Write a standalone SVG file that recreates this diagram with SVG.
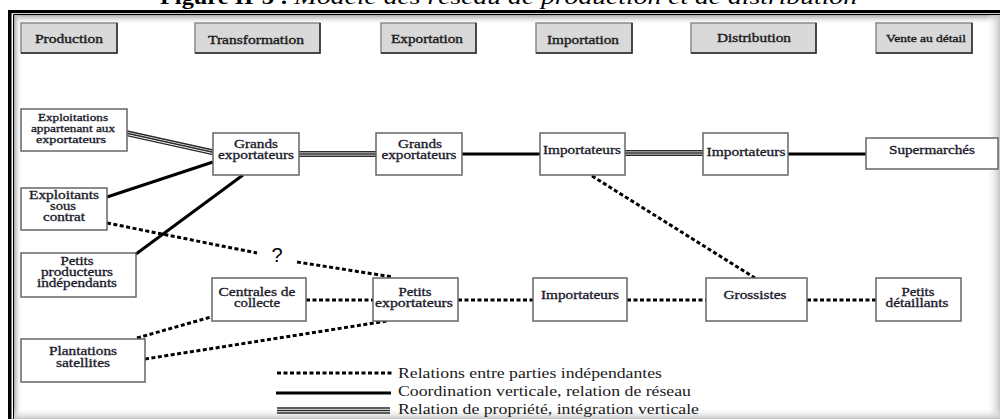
<svg xmlns="http://www.w3.org/2000/svg" width="1000" height="419" viewBox="0 0 1000 419">
<defs>
<linearGradient id="gTop" x1="0" y1="0" x2="0" y2="1"><stop offset="0" stop-color="#a8a8a8"/><stop offset="1" stop-color="#fff" stop-opacity="0"/></linearGradient>
<linearGradient id="gLeft" x1="0" y1="0" x2="1" y2="0"><stop offset="0" stop-color="#a8a8a8"/><stop offset="1" stop-color="#fff" stop-opacity="0"/></linearGradient>
<linearGradient id="gRight" x1="0" y1="0" x2="1" y2="0"><stop offset="0" stop-color="#fff" stop-opacity="0"/><stop offset="1" stop-color="#c4c4c4"/></linearGradient>
<linearGradient id="gBottom" x1="0" y1="0" x2="0" y2="1"><stop offset="0" stop-color="#fff" stop-opacity="0"/><stop offset="1" stop-color="#c4c4c4"/></linearGradient>
</defs>
<style>
.hdr rect{fill:#d9d9d9;stroke:#8a8a8a;stroke-width:1.5}
.hdr path{fill:none;stroke:#2a2a2a;stroke-width:1.5}
.hdr text{font-family:"Liberation Serif",serif;font-size:12px;fill:#1a1a1a;stroke:#1a1a1a;stroke-width:0.35;text-anchor:middle}
.node rect{fill:#fff;stroke:#666;stroke-width:1.5}
.node text{font-family:"Liberation Serif",serif;font-size:11.5px;fill:#1a1a2a;stroke:#1a1a2a;stroke-width:0.3;text-anchor:middle}
.node text.s{font-size:10px}
.dot{fill:none;stroke:#000;stroke-width:3;stroke-dasharray:4 2.5}
.sol{fill:none;stroke:#000;stroke-width:3}
.tri{fill:none;stroke:#2a2a2a;stroke-width:1.4}
.leg{font-family:"Liberation Serif",serif;font-size:15px;fill:#1a1a1a}
</style>
<rect width="1000" height="419" fill="#fff"/>
<text x="160" y="4" font-family="Liberation Serif,serif" font-size="22" fill="#000"><tspan font-weight="bold" textLength="128" lengthAdjust="spacingAndGlyphs">Figure II-3 :</tspan><tspan x="294" font-style="italic" textLength="563" lengthAdjust="spacingAndGlyphs">Modèle des réseau de production et de distribution</tspan></text>
<g id="frame">
<rect x="14" y="15" width="986" height="10" fill="url(#gTop)"/>
<rect x="14" y="15" width="8" height="404" fill="url(#gLeft)"/>
<rect x="986" y="15" width="14" height="404" fill="url(#gRight)"/>
<rect x="14" y="408" width="986" height="11" fill="url(#gBottom)"/>
<rect x="8" y="10" width="992" height="3.2" fill="#000"/>
<rect x="8" y="10" width="3.5" height="409" fill="#000"/>
<path d="M13.5 419 V14.5 H1000" fill="none" stroke="#000" stroke-width="1"/>
</g>
<g id="connectors">
<path class="tri" d="M127 131 L213 150 M127 133.3 L213 152.3 M127 135.6 L213 154.6"/>
<path class="tri" d="M299 151.7 H376 M299 154 H376 M299 156.3 H376"/>
<path class="tri" d="M625 150.7 H703 M625 153 H703 M625 155.3 H703"/>
<path class="sol" d="M107 197 L213 162"/>
<path class="sol" d="M136 254 L243 175"/>
<path class="sol" d="M462 154 H540" stroke-width="2.5"/>
<path class="sol" d="M788 154 H866" stroke-width="2.5"/>
<path class="dot" d="M107 223 L257 253"/>
<path class="dot" d="M297 262 L393 277"/>
<path class="dot" d="M592 176 L755 278"/>
<path class="dot" d="M306 300 H373"/>
<path class="dot" d="M458 300 H533"/>
<path class="dot" d="M627 300 H706"/>
<path class="dot" d="M807 300 H876"/>
<path class="dot" d="M137 338 L211 317"/>
<path class="dot" d="M145 359 L387 321"/>
<text x="277" y="262" font-family="Liberation Sans,sans-serif" font-size="20" text-anchor="middle" fill="#000">?</text>
</g>
<g id="hdr-production" class="hdr"><rect x="21" y="23" width="96" height="30"/><path d="M117 23 V53 H21"/><text x="69" y="43" textLength="68" lengthAdjust="spacingAndGlyphs">Production</text></g>
<g id="hdr-transformation" class="hdr"><rect x="195" y="23" width="125" height="30"/><path d="M320 23 V53 H195"/><text x="256" y="44" textLength="96" lengthAdjust="spacingAndGlyphs">Transformation</text></g>
<g id="hdr-exportation" class="hdr"><rect x="381" y="23" width="95" height="30"/><path d="M476 23 V53 H381"/><text x="427" y="43" textLength="72" lengthAdjust="spacingAndGlyphs">Exportation</text></g>
<g id="hdr-importation" class="hdr"><rect x="536" y="23" width="96" height="30"/><path d="M632 23 V53 H536"/><text x="583" y="44" textLength="72" lengthAdjust="spacingAndGlyphs">Importation</text></g>
<g id="hdr-distribution" class="hdr"><rect x="691" y="23" width="125" height="30"/><path d="M816 23 V53 H691"/><text x="754" y="42" textLength="74" lengthAdjust="spacingAndGlyphs">Distribution</text></g>
<g id="hdr-vente" class="hdr"><rect x="876" y="23" width="96" height="30"/><path d="M972 23 V53 H876"/><text x="926" y="42" style="font-size:10.5px" textLength="80" lengthAdjust="spacingAndGlyphs">Vente au détail</text></g>
<g id="n-exploitations" class="node"><rect x="21" y="109" width="106" height="42"/><text class="s" x="73" y="121" textLength="70" lengthAdjust="spacingAndGlyphs">Exploitations</text><text class="s" x="73" y="132" textLength="84" lengthAdjust="spacingAndGlyphs">appartenant aux</text><text class="s" x="71" y="143" textLength="70" lengthAdjust="spacingAndGlyphs">exportateurs</text></g>
<g id="n-exploitants" class="node"><rect x="21" y="188" width="86" height="42"/><text x="64" y="199" textLength="70" lengthAdjust="spacingAndGlyphs">Exploitants</text><text x="63" y="210" textLength="26" lengthAdjust="spacingAndGlyphs">sous</text><text x="64" y="221" textLength="42" lengthAdjust="spacingAndGlyphs">contrat</text></g>
<g id="n-petits-producteurs" class="node"><rect x="21" y="253" width="115" height="44"/><text x="77" y="265" textLength="33" lengthAdjust="spacingAndGlyphs">Petits</text><text x="77" y="276" textLength="72" lengthAdjust="spacingAndGlyphs">producteurs</text><text x="77" y="287" textLength="80" lengthAdjust="spacingAndGlyphs">indépendants</text></g>
<g id="n-plantations" class="node"><rect x="21" y="339" width="124" height="43"/><text x="83" y="355" textLength="68" lengthAdjust="spacingAndGlyphs">Plantations</text><text x="83" y="367" textLength="54" lengthAdjust="spacingAndGlyphs">satellites</text></g>
<g id="n-grands-exp1" class="node"><rect x="213" y="133" width="86" height="42"/><text x="256" y="148" textLength="44" lengthAdjust="spacingAndGlyphs">Grands</text><text x="256" y="159" textLength="76" lengthAdjust="spacingAndGlyphs">exportateurs</text></g>
<g id="n-centrales" class="node"><rect x="212" y="278" width="94" height="43"/><text x="257" y="296" textLength="77" lengthAdjust="spacingAndGlyphs">Centrales de</text><text x="257" y="307" textLength="46" lengthAdjust="spacingAndGlyphs">collecte</text></g>
<g id="n-grands-exp2" class="node"><rect x="376" y="133" width="86" height="42"/><text x="420" y="148" textLength="44" lengthAdjust="spacingAndGlyphs">Grands</text><text x="419" y="159" textLength="75" lengthAdjust="spacingAndGlyphs">exportateurs</text></g>
<g id="n-petits-exp" class="node"><rect x="373" y="278" width="85" height="43"/><text x="415" y="296" textLength="33" lengthAdjust="spacingAndGlyphs">Petits</text><text x="414" y="307" textLength="78" lengthAdjust="spacingAndGlyphs">exportateurs</text></g>
<g id="n-importateurs1" class="node"><rect x="540" y="133" width="85" height="42"/><text x="582" y="154" textLength="78" lengthAdjust="spacingAndGlyphs">Importateurs</text></g>
<g id="n-importateurs3" class="node"><rect x="533" y="278" width="94" height="43"/><text x="580" y="299" textLength="78" lengthAdjust="spacingAndGlyphs">Importateurs</text></g>
<g id="n-importateurs2" class="node"><rect x="703" y="133" width="85" height="42"/><text x="746" y="156" textLength="79" lengthAdjust="spacingAndGlyphs">Importateurs</text></g>
<g id="n-grossistes" class="node"><rect x="706" y="278" width="101" height="43"/><text x="755" y="299" textLength="63" lengthAdjust="spacingAndGlyphs">Grossistes</text></g>
<g id="n-supermarches" class="node"><rect x="866" y="138" width="132" height="31"/><text x="932" y="154" textLength="86" lengthAdjust="spacingAndGlyphs">Supermarchés</text></g>
<g id="n-petits-detaillants" class="node"><rect x="876" y="278" width="85" height="43"/><text x="918" y="296" textLength="33" lengthAdjust="spacingAndGlyphs">Petits</text><text x="917" y="307" textLength="63" lengthAdjust="spacingAndGlyphs">détaillants</text></g>
<g id="legend">
<path class="dot" d="M277 373 H393"/>
<path class="sol" d="M276 393 H391"/>
<path class="tri" d="M277 408 H390 M277 410.5 H390 M277 413 H390"/>
<text class="leg" x="398" y="378" textLength="264" lengthAdjust="spacingAndGlyphs">Relations entre parties indépendantes</text>
<text class="leg" x="398" y="396" textLength="293" lengthAdjust="spacingAndGlyphs">Coordination verticale, relation de réseau</text>
<text class="leg" x="398" y="414" textLength="301" lengthAdjust="spacingAndGlyphs">Relation de propriété, intégration verticale</text>
</g>
</svg>
